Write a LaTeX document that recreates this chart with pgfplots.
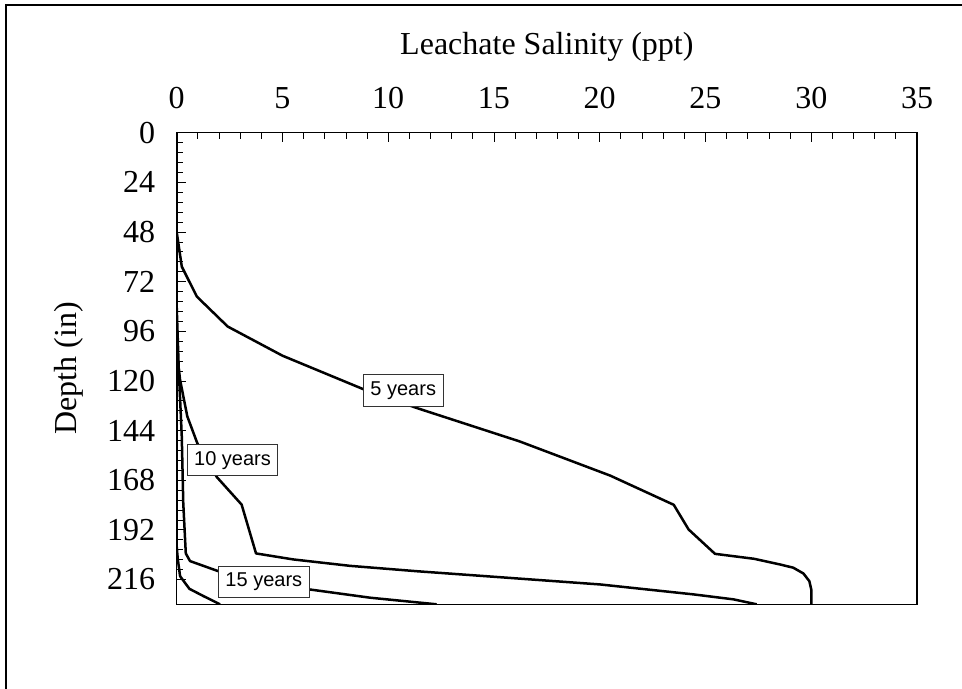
\documentclass[border=0pt]{standalone}
\usepackage{fontspec}
\setmainfont{Liberation Serif}
\newfontfamily\arialfont{Liberation Sans}
\usepackage{pgfplots}
\pgfplotsset{compat=1.18}

\begin{document}
\begin{tikzpicture}
\useasboundingbox (0,0) rectangle (481pt,-344.5pt);
% outer frame (only left and top edges are visible)
\draw[line width=1pt] (2.75pt,-344.5pt) -- (2.75pt,-2.75pt) -- (481pt,-2.75pt);
\begin{axis}[
    at={(88.35pt,-66.35pt)}, anchor=north west,
    scale only axis, width=370.15pt, height=235.8pt,
    xmin=0, xmax=35, ymin=0, ymax=228, y dir=reverse,
    xtick={0,5,...,35}, ytick={0,24,...,216},
    minor x tick num=4, minor y tick num=4,
    tick align=inside,
    xtick pos=right, xticklabel pos=right, ytick pos=left,
    major tick length=4.5pt, minor tick length=3pt,
    tick style={black, line width=0.4pt},
    axis line style={black, line width=0.6pt},
    /pgf/number format/assume math mode=true,
    tick label style={font=\fontsize{16}{19}\selectfont},
    xticklabel style={yshift=8.3pt},
    yticklabel style={xshift=-7.3pt},
    title={Leachate Salinity (ppt)},
    title style={at={(axis description cs:0.5,1)}, anchor=base, yshift=32.9pt, font=\fontsize{16}{19}\selectfont},
    ylabel={Depth (in)},
    ylabel style={at={(axis description cs:-0.1455,0.5)}, anchor=center, font=\fontsize{16}{19}\selectfont},
    curve/.style={black, mark=none, line width=1.25pt, line join=round},
]
% 5 years
\addplot[curve] coordinates {(0,0) (0,48) (0.24,64.7) (0.95,79.2) (2.41,93.7) (5.0,107.8) (8.8,123.9) (11.35,133.1) (16.2,149.2) (20.5,165.8) (23.5,179.9) (24.2,191.8) (25.45,203.6) (27.3,206) (28.55,208.8) (29.15,210.3) (29.63,213.1) (29.91,216.8) (30.0,220.8) (30.0,228)};
% 10 years
\addplot[curve] coordinates {(0,0) (0,100) (0.05,110) (0.16,119.5) (0.5,137.1) (0.97,150) (1.89,166.4) (3.07,179.8) (3.75,203.4) (5.51,206.3) (8.19,209.4) (11.35,212) (15.29,214.9) (20.02,218.4) (24.43,223.2) (26.32,225.6) (27.42,228)};
% 15 years
\addplot[curve] coordinates {(0,0) (0,84) (0.1,115) (0.24,146.8) (0.31,179) (0.43,203.4) (0.63,207.1) (1.97,212) (6.27,220.8) (9.14,224.8) (12.29,228)};
% later profile (unlabelled)
\addplot[curve] coordinates {(0,0) (0,200) (0.05,206) (0.16,214.4) (0.6,220.5) (1.26,224) (2.05,228)};

\begin{scope}[every node/.style={draw=black!80, line width=0.5pt, fill=white, inner xsep=3.5pt, inner ysep=3.4pt, font=\arialfont\fontsize{10}{12}\selectfont}]
\node at (axis cs:10.71,124.7) {5 years};
\node at (axis cs:2.64,158.3) {10 years};
\node at (axis cs:4.12,217.3) {15 years};
\end{scope}
\end{axis}
\end{tikzpicture}
\end{document}
